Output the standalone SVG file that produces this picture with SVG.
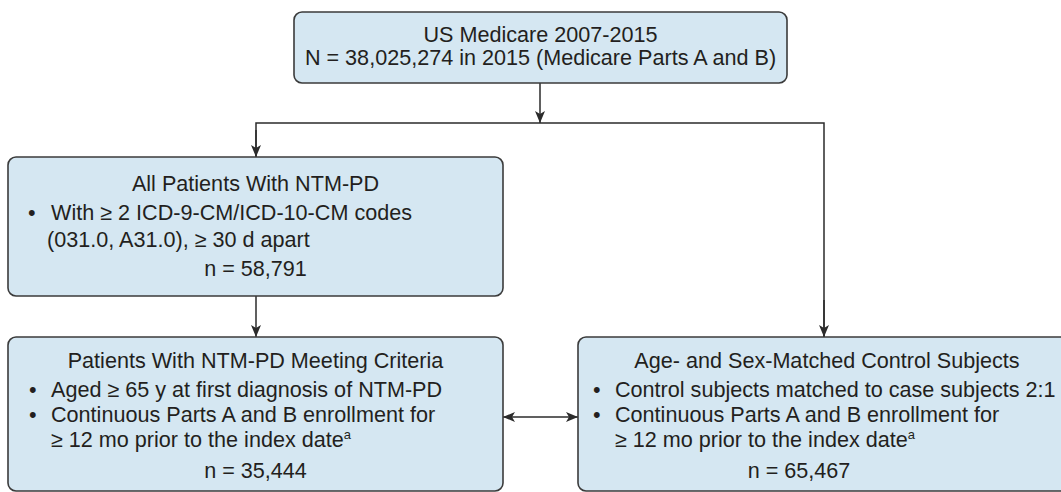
<svg xmlns="http://www.w3.org/2000/svg" width="1061" height="492" viewBox="0 0 1061 492">
<defs>
<style>
.box{fill:#d5e7f2;stroke:#3b3b3b;stroke-width:1.6}
.t{font-family:"Liberation Sans",Arial,sans-serif;font-size:21.6px;fill:#231f20}
.c{text-anchor:middle}
.ln{fill:none;stroke:#2b2b2b;stroke-width:1.5}
.sup{font-size:13px}
</style>
<marker id="ah" viewBox="0 0 12 10" refX="12" refY="5" markerWidth="12" markerHeight="10" markerUnits="userSpaceOnUse" orient="auto-start-reverse">
<path d="M0,0 L12,5 L0,10 L3,5 Z" fill="#2b2b2b"/>
</marker>
</defs>
<rect width="1061" height="492" fill="#ffffff"/>
<g id="connectors">
<line class="ln" x1="540" y1="83" x2="540" y2="123" marker-end="url(#ah)"/>
<polyline class="ln" points="256,157 256,123 824,123 824,337"/>
<line class="ln" x1="256" y1="130" x2="256" y2="157" marker-end="url(#ah)"/>
<line class="ln" x1="824" y1="300" x2="824" y2="337" marker-end="url(#ah)"/>
<line class="ln" x1="256" y1="296" x2="256" y2="337" marker-end="url(#ah)"/>
<line class="ln" x1="503" y1="417" x2="578" y2="417" marker-start="url(#ah)" marker-end="url(#ah)"/>
</g>
<g id="medicare">
<rect class="box" x="294" y="12" width="493" height="71" rx="8"/>
<text class="t c" x="540.5" y="42">US Medicare 2007-2015</text>
<text class="t c" x="540.5" y="65">N = 38,025,274 in 2015 (Medicare Parts A and B)</text>
</g>
<g id="all-patients">
<rect class="box" x="8" y="157" width="495" height="139" rx="8"/>
<text class="t c" x="255.5" y="191">All Patients With NTM-PD</text>
<text class="t" x="28" y="220">•</text>
<text class="t" x="51" y="220">With ≥ 2 ICD-9-CM/ICD-10-CM codes</text>
<text class="t" x="47" y="247">(031.0, A31.0), ≥ 30 d apart</text>
<text class="t c" x="255.5" y="276">n = 58,791</text>
</g>
<g id="criteria">
<rect class="box" x="8" y="337" width="495" height="154" rx="8"/>
<text class="t c" x="255.5" y="368">Patients With NTM-PD Meeting Criteria</text>
<text class="t" x="29" y="397">•</text>
<text class="t" x="51" y="397">Aged ≥ 65 y at first diagnosis of NTM-PD</text>
<text class="t" x="29" y="422">•</text>
<text class="t" x="51" y="422">Continuous Parts A and B enrollment for</text>
<text class="t" x="51" y="447">≥ 12 mo prior to the index date<tspan class="sup" dy="-8">a</tspan></text>
<text class="t c" x="255.5" y="478">n = 35,444</text>
</g>
<g id="controls">
<rect class="box" x="578" y="337" width="500" height="154" rx="8"/>
<text class="t c" x="827" y="368">Age- and Sex-Matched Control Subjects</text>
<text class="t" x="593" y="397">•</text>
<text class="t" x="615" y="397">Control subjects matched to case subjects 2:1</text>
<text class="t" x="593" y="422">•</text>
<text class="t" x="615" y="422">Continuous Parts A and B enrollment for</text>
<text class="t" x="615" y="447">≥ 12 mo prior to the index date<tspan class="sup" dy="-8">a</tspan></text>
<text class="t c" x="799" y="478">n = 65,467</text>
</g>
</svg>
